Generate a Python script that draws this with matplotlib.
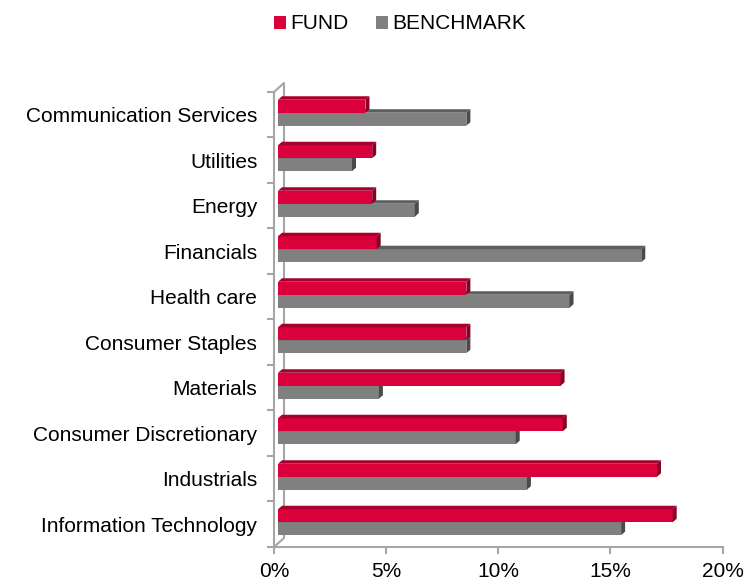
import matplotlib
matplotlib.use('Agg')
import matplotlib.pyplot as plt
from matplotlib.patches import Polygon
from matplotlib.transforms import ScaledTranslation
from matplotlib.patches import Patch

plt.rcParams['font.family'] = ['Liberation Sans', 'DejaVu Sans']

# Data (bottom to top)
sectors = ['Information Technology', 'Industrials', 'Consumer Discretionary', 'Materials',
           'Consumer Staples', 'Health care', 'Financials', 'Energy', 'Utilities',
           'Communication Services']
fund = [17.6, 16.9, 12.7, 12.6, 8.4, 8.4, 4.4, 4.2, 4.2, 3.9]
benchmark = [15.3, 11.1, 10.6, 4.5, 8.4, 13.0, 16.2, 6.1, 3.3, 8.4]
xticks = [0, 5, 10, 15, 20]

fund_col = '#D9003B'
fund_top = '#A8002D'
fund_side = '#8A0025'
bench_col = '#808080'
bench_top = '#5E5E5E'
bench_side = '#4A4A4A'
axis_col = '#A6A6A6'

fig = plt.figure(figsize=(7.46, 5.85), dpi=100)
ax = fig.add_axes([0.3673, 0.0650, 0.6012, 0.7778])
ax.set_xlim(0, 20)
ax.set_ylim(-0.5, 9.5)

# pixel scale for 3D offsets
px_x = 20 / 448.5
px_y = 10 / 455.0
ddx = 4 * px_x
ddy = 3.5 * px_y

# bars are drawn slightly shifted (3D wall offset)
shift = ax.transData + ScaledTranslation(4 / 100, 2 / 100, fig.dpi_scale_trans)

h = 0.285
ys = list(range(len(sectors)))


def bar3d(y0, v, front, top, side):
    y1 = y0 + h
    ax.add_patch(Polygon([(0, y0), (v, y0), (v, y1), (0, y1)], closed=True,
                         facecolor=front, edgecolor='none', transform=shift, clip_on=False))
    ax.add_patch(Polygon([(0, y1), (v, y1), (v + ddx, y1 + ddy), (ddx, y1 + ddy)], closed=True,
                         facecolor=top, edgecolor='none', transform=shift, clip_on=False))
    ax.add_patch(Polygon([(v, y0), (v + ddx, y0 + ddy), (v + ddx, y1 + ddy), (v, y1)], closed=True,
                         facecolor=side, edgecolor='none', transform=shift, clip_on=False))


# back wall lines
wall_dx = 10 * px_x
wall_dy = 9 * px_y
ax.plot([0, wall_dx, wall_dx, 0], [9.5, 9.5 + wall_dy, -0.5 + wall_dy, -0.5],
        color=axis_col, lw=1.5, clip_on=False, zorder=0)

for y, f, b in zip(ys, fund, benchmark):
    bar3d(y - h, b, bench_col, bench_top, bench_side)
    bar3d(y, f, fund_col, fund_top, fund_side)

for s in ['top', 'right']:
    ax.spines[s].set_visible(False)
for s in ['left', 'bottom']:
    ax.spines[s].set_color(axis_col)
    ax.spines[s].set_linewidth(1.5)

ax.set_xticks(xticks)
ax.set_xticklabels([f'{t}%' for t in xticks])
ax.set_yticks(ys)
ax.set_yticklabels(sectors)
ax.set_yticks([y - 0.5 for y in range(len(sectors) + 1)], minor=True)
ax.tick_params(axis='y', which='major', length=0, pad=12, labelsize=15)
ax.tick_params(axis='y', which='minor', length=5, width=1.5, color=axis_col)
ax.tick_params(axis='x', length=5, width=1.5, color=axis_col, labelsize=15, pad=6)

handles = [Patch(facecolor=fund_col, label='FUND'),
           Patch(facecolor=bench_col, label='BENCHMARK')]
fig.legend(handles=handles, loc='center', bbox_to_anchor=(0.536, 0.959), ncol=2,
           frameon=False, fontsize=15, handlelength=0.6, handleheight=0.6,
           handletextpad=0.2, columnspacing=1.3)

fig.savefig('out.png', dpi=100)
